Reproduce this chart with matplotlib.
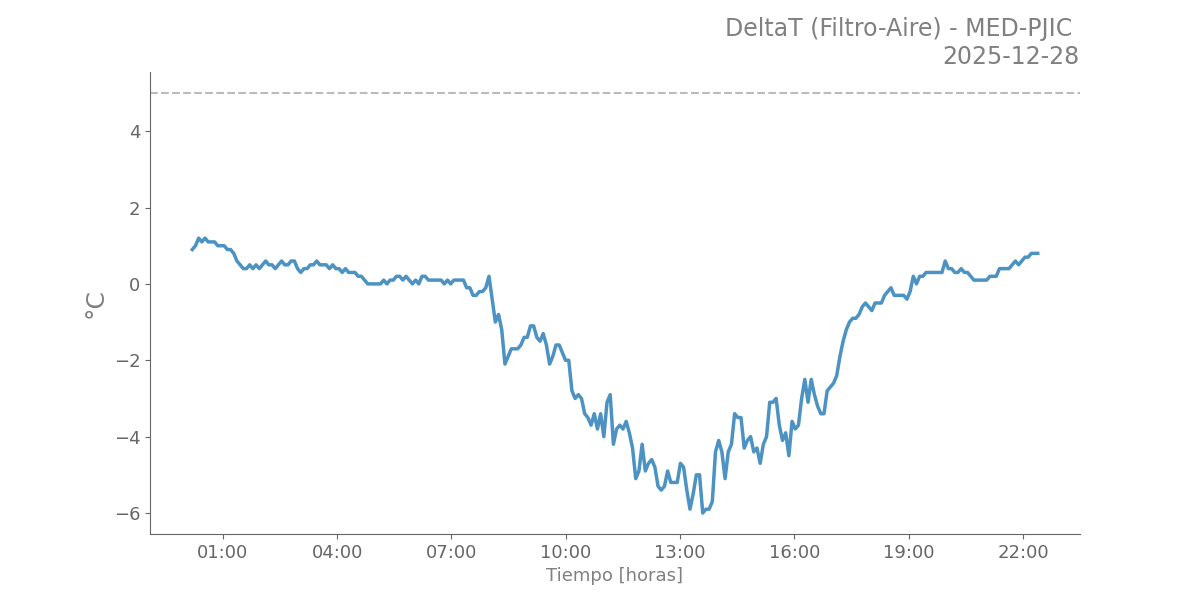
import matplotlib
matplotlib.use("Agg")
import matplotlib.pyplot as plt
import matplotlib.dates as mdates
import pandas as pd

start_time = "2025-12-28 00:12"
end_time = "2025-12-28 22:23"
threshold = 5.0
title_text = "DeltaT (Filtro-Aire) - MED-PJIC \n2025-12-28"
xlabel_text = "Tiempo [horas]"
ylabel_text = "°C"

delta_t = [
    0.9, 1.0, 1.2, 1.1, 1.2, 1.1, 1.1, 1.1, 1.0, 1.0,
    1.0, 0.9, 0.9, 0.8, 0.6, 0.5, 0.4, 0.4, 0.5, 0.4,
    0.5, 0.4, 0.5, 0.6, 0.5, 0.5, 0.4, 0.5, 0.6, 0.5,
    0.5, 0.6, 0.6, 0.4, 0.3, 0.4, 0.4, 0.5, 0.5, 0.6,
    0.5, 0.5, 0.5, 0.4, 0.5, 0.4, 0.4, 0.3, 0.4, 0.3,
    0.3, 0.3, 0.2, 0.2, 0.1, 0.0, 0.0, 0.0, 0.0, 0.0,
    0.1, 0.0, 0.1, 0.1, 0.2, 0.2, 0.1, 0.2, 0.1, 0.0,
    0.1, 0.0, 0.2, 0.2, 0.1, 0.1, 0.1, 0.1, 0.1, 0.0,
    0.1, 0.0, 0.1, 0.1, 0.1, 0.1, -0.1, -0.1, -0.3, -0.3,
    -0.2, -0.2, -0.1, 0.2,
    -0.4, -1.0, -0.8, -1.2, -2.1, -1.9, -1.7, -1.7, -1.7, -1.6,
    -1.4, -1.4, -1.1, -1.1, -1.4, -1.5, -1.3, -1.6, -2.1, -1.9,
    -1.6, -1.6, -1.8, -2.0, -2.0, -2.8, -3.0, -2.9, -3.0, -3.4,
    -3.5, -3.7, -3.4, -3.8, -3.4, -4.0, -3.1, -2.9, -4.2, -3.8,
    -3.7, -3.8, -3.6, -3.9, -4.3, -5.1, -4.9, -4.2, -4.9, -4.7,
    -4.6, -4.8, -5.3, -5.4, -5.3, -4.9, -5.2, -5.2, -5.2, -4.7,
    -4.8, -5.4, -5.9, -5.5, -5.0, -5.0, -6.0, -5.9, -5.9, -5.7,
    -4.4, -4.1, -4.4, -5.1, -4.4, -4.2, -3.4, -3.5, -3.5, -4.3,
    -4.1, -4.0, -4.4, -4.3, -4.7, -4.2, -4.0, -3.1, -3.1, -3.0,
    -3.7, -4.1, -3.9, -4.5, -3.6, -3.8, -3.7, -3.0, -2.5, -3.1,
    -2.5, -2.9, -3.2, -3.4, -3.4, -2.8, -2.7, -2.6, -2.4, -1.9,
    -1.5, -1.2, -1.0, -0.9, -0.9, -0.8, -0.6, -0.5, -0.6, -0.7,
    -0.5, -0.5, -0.5, -0.3, -0.2, -0.1, -0.3, -0.3, -0.3, -0.3,
    -0.4, -0.2, 0.2, 0.0, 0.2, 0.2, 0.3, 0.3, 0.3, 0.3,
    0.3, 0.3, 0.6, 0.4, 0.4, 0.3, 0.3, 0.4, 0.3, 0.3,
    0.2, 0.1, 0.1, 0.1, 0.1, 0.1, 0.2, 0.2, 0.2, 0.4,
    0.4, 0.4, 0.4, 0.5, 0.6, 0.5, 0.6, 0.7, 0.7, 0.8,
    0.8, 0.8,
]

times = pd.date_range(start=start_time, end=end_time, periods=len(delta_t))

fig, ax = plt.subplots(figsize=(12, 6), dpi=100)
ax.plot(times, delta_t, color="#1f77b4", alpha=0.8, linewidth=2.5)
ax.axhline(threshold, color="#bbbbbb", linestyle="--", linewidth=1.5)

ax.xaxis.set_major_locator(mdates.HourLocator(byhour=range(1, 24, 3)))
ax.xaxis.set_major_formatter(mdates.DateFormatter("%H:%M"))

for s in ["top", "right"]:
    ax.spines[s].set_visible(False)
for s in ["left", "bottom"]:
    ax.spines[s].set_color("#666666")

ax.tick_params(axis="both", colors="#666666", labelsize=13, labelcolor="#666666")
ax.set_xlabel(xlabel_text, fontsize=13, color="#808080")
ax.set_ylabel(ylabel_text, fontsize=18, color="#808080")
ax.set_title(title_text, loc="right", fontsize=17, color="#808080")

fig.savefig("out.png", dpi=100)
